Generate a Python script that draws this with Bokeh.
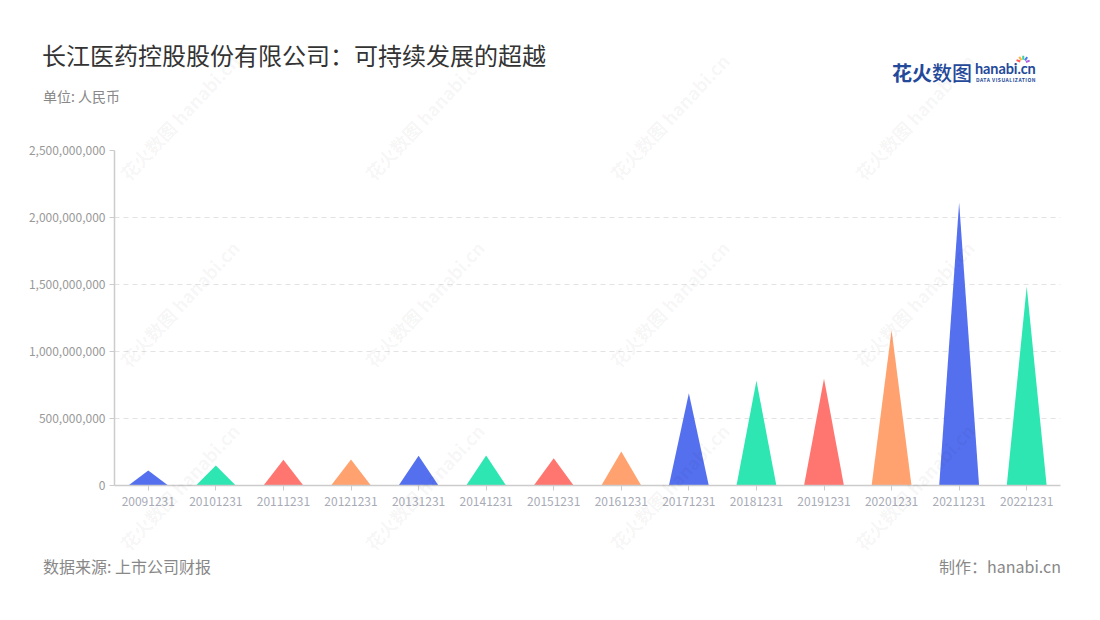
import math
from bokeh.plotting import figure
from bokeh.layouts import column
from bokeh.models import Range1d, FixedTicker, NumeralTickFormatter, ColumnDataSource, Div
from bokeh.embed import file_html
from bokeh.resources import INLINE

# ---------------- data ----------------
periods = ["20091231", "20101231", "20111231", "20121231", "20131231", "20141231", "20151231",
           "20161231", "20171231", "20181231", "20191231", "20201231", "20211231", "20221231"]
values = [112e6, 149e6, 192e6, 194e6, 222e6, 224e6, 204e6,
          254e6, 689e6, 781e6, 799e6, 1160e6, 2112e6, 1485e6]
palette = ["#5470ee", "#2ee6b1", "#ff7670", "#ffa26f"]
y_ticks = [0, 500e6, 1000e6, 1500e6, 2000e6, 2500e6]

title_text = "长江医药控股股份有限公司：可持续发展的超越"
unit_text = "单位: 人民币"
source_text = "数据来源: 上市公司财报"
credit_text = "制作：hanabi.cn"

FONT = "Noto Sans CJK SC"
W = 1084
HEAD_H = 140
FRAME_T, FRAME_B = 150, 485
FRAME_L, FRAME_R = 114, 1060
MAIN_TOP = FRAME_T - HEAD_H
MAIN_BOT = 40
MAIN_H = MAIN_TOP + (FRAME_B - FRAME_T) + MAIN_BOT
FOOT_Y0 = HEAD_H + MAIN_H
FOOT_H = 604 - FOOT_Y0
n = len(periods)
YMAX = 2.5e9

WM_TEXT = "花火数图 hanabi.cn"
WM_X = [130, 375, 620, 865]
WM_Y = [183, 370, 553]


def span(text, X, Y, size, color, align="left", weight="normal", extra=""):
    tx = "-100%" if align == "right" else "0"
    return (f'<span style="position:absolute;left:{X}px;top:{Y}px;'
            f'transform:translate({tx},-50%);white-space:nowrap;line-height:1.2;'
            f'font-size:{size}px;color:{color};font-weight:{weight};{extra}">{text}</span>')


def wm_span(X0, Y0):
    return (f'<span style="position:absolute;left:{X0}px;top:{Y0 - 18}px;line-height:18px;'
            f'font-size:18px;font-weight:bold;color:rgba(0,0,0,0.05);white-space:nowrap;'
            f'transform-origin:0 100%;transform:rotate(-47deg);pointer-events:none;'
            f'z-index:10;">{WM_TEXT}</span>')


# ---------------- header (with the watermark overlay) ----------------
parts = []
parts.append(span(title_text, 42, 55, 24, "#333333"))
parts.append(span(unit_text, 43, 96, 14, "#888888"))
parts.append(span('<b>花火</b>数图', 892, 73, 20, "#24499a", weight="500"))
parts.append(span("hanabi.cn", 975, 69, 14.5, "#24499a", weight="bold",
                  extra="font-family:Lato;letter-spacing:-0.1px;"))
parts.append(span("DATA VISUALIZATION", 976, 80, 5, "#24499a", weight="bold",
                  extra="letter-spacing:0.5px;"))
rays = ["#ff5a5a", "#ffb340", "#3ed0a0", "#4a7cf0", "#b060e0"]
for k, c in enumerate(rays):
    a = 160 - k * 35
    parts.append(f'<span style="position:absolute;left:1023px;top:62px;width:4px;height:1.5px;'
                 f'background:{c};transform-origin:0 50%;transform:rotate({-a}deg) translateX(3px);"></span>')
for X0 in WM_X:
    for Y0 in WM_Y:
        parts.append(wm_span(X0, Y0))

head_html = (f'<div style="position:relative;width:{W}px;height:{HEAD_H}px;overflow:visible;'
             f'font-family:\'{FONT}\';">' + "".join(parts) + '</div>')
head = Div(text=head_html, width=W, height=HEAD_H, margin=0,
           styles={"overflow": "visible", "z-index": "10"})

# ---------------- main chart ----------------
p = figure(width=W, height=MAIN_H, output_backend="svg", toolbar_location=None,
           x_range=Range1d(0, n), y_range=Range1d(0, YMAX),
           min_border_left=FRAME_L, min_border_right=W - FRAME_R,
           min_border_top=MAIN_TOP, min_border_bottom=MAIN_BOT, margin=0)
p.outline_line_color = None
p.background_fill_color = "white"
p.border_fill_color = "white"

half = 0.295
xs, ys, cols = [], [], []
for i, v in enumerate(values):
    c = i + 0.5
    xs.append([c - half, c, c + half])
    ys.append([0, v, 0])
    cols.append(palette[i % 4])
src = ColumnDataSource(dict(xs=xs, ys=ys, color=cols))
p.patches("xs", "ys", source=src, fill_color="color", line_color=None)

p.xaxis.ticker = FixedTicker(ticks=[i + 0.5 for i in range(n)])
p.xaxis.major_label_overrides = {i + 0.5: lab for i, lab in enumerate(periods)}
p.xaxis.axis_line_color = "#cccccc"
p.xaxis.axis_line_width = 1.5
p.xaxis.major_tick_line_color = "#cccccc"
p.xaxis.major_tick_out = 5
p.xaxis.major_tick_in = 0
p.xaxis.minor_tick_line_color = None
p.xaxis.major_label_text_color = "#a8abb6"
p.xaxis.major_label_text_font = FONT
p.xaxis.major_label_text_font_size = "12px"
p.xaxis.major_label_standoff = 6

p.yaxis.ticker = FixedTicker(ticks=y_ticks)
p.yaxis.formatter = NumeralTickFormatter(format="0,0")
p.yaxis.axis_line_color = "#cccccc"
p.yaxis.axis_line_width = 1.5
p.yaxis.major_tick_line_color = "#cccccc"
p.yaxis.major_tick_out = 5
p.yaxis.major_tick_in = 0
p.yaxis.minor_tick_line_color = None
p.yaxis.major_label_text_color = "#999999"
p.yaxis.major_label_text_font = FONT
p.yaxis.major_label_text_font_size = "12px"
p.yaxis.major_label_standoff = 4

p.xgrid.grid_line_color = None
p.ygrid.ticker = FixedTicker(ticks=y_ticks[1:])
p.ygrid.grid_line_color = "#e3e3e3"
p.ygrid.grid_line_dash = "5 4"
p.ygrid.grid_line_width = 1

# ---------------- footer ----------------
fparts = [span(source_text, 43, 567 - FOOT_Y0, 16, "#888888"),
          span(credit_text, 1061, 567 - FOOT_Y0, 16, "#888888", align="right")]
foot_html = (f'<div style="position:relative;width:{W}px;height:{FOOT_H}px;'
             f'font-family:\'{FONT}\';">' + "".join(fparts) + '</div>')
foot = Div(text=foot_html, width=W, height=FOOT_H, margin=0)

layout = column(head, p, foot, spacing=0)
open("out.html", "w").write(file_html(layout, INLINE))
